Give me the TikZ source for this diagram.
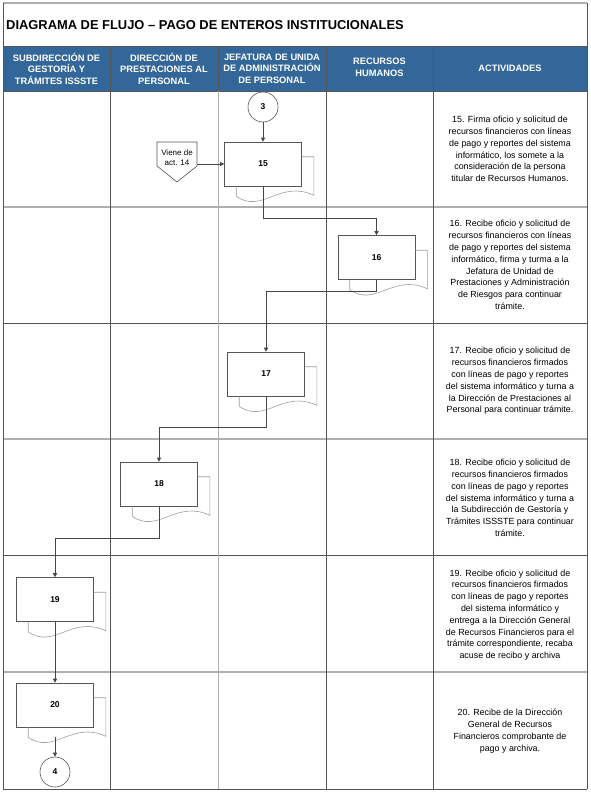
\documentclass[tikz,border=0pt]{standalone}
\usepackage{fontspec}
\setmainfont{Liberation Sans}
\usetikzlibrary{arrows.meta,calc}
\definecolor{hdr}{RGB}{51,102,153}
\definecolor{linedark}{RGB}{85,85,85}
\definecolor{linelight}{RGB}{175,175,175}
\definecolor{conncol}{RGB}{70,70,70}
\newcommand{\docshadow}[1]{%
  \draw[shadowline] ($(#1.north east)+(0,-15)$) -- ++(12,0) -- ($(#1.south east)+(12,-9)$)
    .. controls ($(#1.south east)+(-22,7)$) and ($(#1.south west)+(38,-28)$) .. ($(#1.south west)+(12,-10)$)
    -- ($(#1.south west)+(12,0)$);}
\begin{document}
\begin{tikzpicture}[x=1pt,y=1pt,
  hdrtext/.style={text=white, align=center, font=\bfseries\fontsize{9.3}{11.5}\selectfont, inner sep=0},
  acttext/.style={align=center, font=\fontsize{8.9}{11.8}\selectfont, inner sep=0},
  docbox/.style={draw=linedark, fill=white, line width=0.6pt, minimum width=77pt, minimum height=44pt, inner sep=0, font=\bfseries\fontsize{8.5}{10}\selectfont},
  shadowline/.style={draw=gray!75, line width=0.6pt},
  circ/.style={circle, draw=linedark, fill=white, line width=0.6pt, minimum size=30pt, inner sep=0, font=\bfseries\fontsize{8.5}{10}\selectfont},
  conn/.style={draw=conncol, line width=0.6pt, -{Triangle[length=4pt,width=4pt]}},
  gridd/.style={draw=linedark, line width=0.7pt},
  gridl/.style={draw=linelight, line width=1.2pt}]
\useasboundingbox (0,0) rectangle (590,-795);
\fill[white] (0,0) rectangle (590,-795);
% header band
\fill[hdr] (3,-46) rectangle (587,-91);
% grid
\draw[gridl] (3,-3) -- (587,-3);
\draw[gridl] (3,-207) -- (587,-207);
\draw[gridl] (3,-439) -- (587,-439);
\draw[gridl] (3,-672) -- (587,-672);
\draw[gridd] (3,-323) -- (587,-323);
\draw[gridd] (3,-555) -- (587,-555);
\draw[gridd] (3,-46) -- (587,-46);
\draw[gridd] (3,-91) -- (587,-91);
\draw[gridd] (3,-789) -- (587,-789);
\draw[gridd] (3,-3) -- (3,-789);
\draw[gridd] (587,-3) -- (587,-789);
\draw[gridd] (110,-46) -- (110,-789);
\draw[gridl, line width=1pt] (218,-91) -- (218,-789);
\draw[gridd] (218,-46) -- (218,-91);
\draw[gridd] (326,-46) -- (326,-789);
\draw[gridd] (433,-46) -- (433,-789);
% title
\node[anchor=west, inner sep=0, font=\bfseries\fontsize{12.9}{15}\selectfont] (title) at (6,-25) {DIAGRAMA DE FLUJO – PAGO DE ENTEROS INSTITUCIONALES};
% headers
\node[hdrtext] (h1) at (56.5,-68.5) {SUBDIRECCIÓN DE\\GESTORÍA Y\\TRÁMITES ISSSTE};
\node[hdrtext] (h2) at (164,-68.5) {DIRECCIÓN DE\\PRESTACIONES AL\\PERSONAL};
\node[hdrtext] (h3) at (272,-68.5) {JEFATURA DE UNIDA\\DE ADMINISTRACIÓN\\DE PERSONAL};
\node[hdrtext] (h4) at (379.5,-67.5) {RECURSOS\\HUMANOS};
\node[hdrtext] (h5) at (510,-68) {ACTIVIDADES};
% activities
\node[acttext] (a15) at (510,-149) {15. Firma oficio y solicitud de\\recursos financieros con líneas\\de pago y reportes del sistema\\informático, los somete a la\\consideración de la persona\\titular de Recursos Humanos.};
\node[acttext] (a16) at (510,-265) {16. Recibe oficio y solicitud de\\recursos financieros con líneas\\de pago y reportes del sistema\\informático, firma y turma a la\\Jefatura de Unidad de\\Prestaciones y Administración\\de Riesgos para continuar\\trámite.};
\node[acttext] (a17) at (510,-381) {17. Recibe oficio y solicitud de\\recursos financieros firmados\\con líneas de pago y reportes\\del sistema informático y turna a\\la Dirección de Prestaciones al\\Personal para continuar trámite.};
\node[acttext] (a18) at (510,-498) {18. Recibe oficio y solicitud de\\recursos financieros firmados\\con líneas de pago y reportes\\del sistema informático y turna a\\la Subdirección de Gestoría y\\Trámites ISSSTE para continuar\\trámite.};
\node[acttext] (a19) at (510,-615) {19. Recibe oficio y solicitud de\\recursos financieros firmados\\con líneas de pago y reportes\\del sistema informático y\\entrega a la Dirección General\\de Recursos Financieros para el\\trámite correspondiente, recaba\\acuse de recibo y archiva};
\node[acttext] (a20) at (510,-731) {20. Recibe de la Dirección\\General de Recursos\\Financieros comprobante de\\pago y archiva.};
% flow shapes
\node[circ] (c3) at (263,-107) {3};
\node[docbox] (b15) at (263,-164) {15};
\docshadow{b15}
\node[docbox] (b16) at (376.5,-257.5) {16};
\docshadow{b16}
\node[docbox] (b17) at (266,-374) {17};
\docshadow{b17}
\node[docbox] (b18) at (159,-484) {18};
\docshadow{b18}
\node[docbox] (b19) at (55,-599.5) {19};
\docshadow{b19}
\node[docbox] (b20) at (55,-705) {20};
\docshadow{b20}
\node[circ] (c4) at (55,-772) {4};
% off-page connector
\draw[draw=linedark, fill=white, line width=0.6pt] (157,-142) -- (197,-142) -- (197,-166) -- (177,-182) -- (157,-166) -- cycle;
\node[inner sep=0, align=center, font=\fontsize{8}{10}\selectfont] (v14) at (177,-158) {Viene de\\act. 14};
\coordinate (v14e) at (197,-164);
% connectors
\draw[conn] (c3) -- (b15);
\draw[conn] (v14e) -- (b15.west);
\draw[conn] (b15.south) -- ++(0,-32) -| (b16.north);
\draw[conn] (b16.south) -- ++(0,-11) -| (b17.north);
\draw[conn] (b17.south) -- ++(0,-31) -| (b18.north);
\draw[conn] (b18.south) -- ++(0,-32) -| (b19.north);
\draw[conn] (b19) -- (b20);
\draw[conn] ($(b20.south)+(0,-10)$) -- (c4);
\end{tikzpicture}
\end{document}
